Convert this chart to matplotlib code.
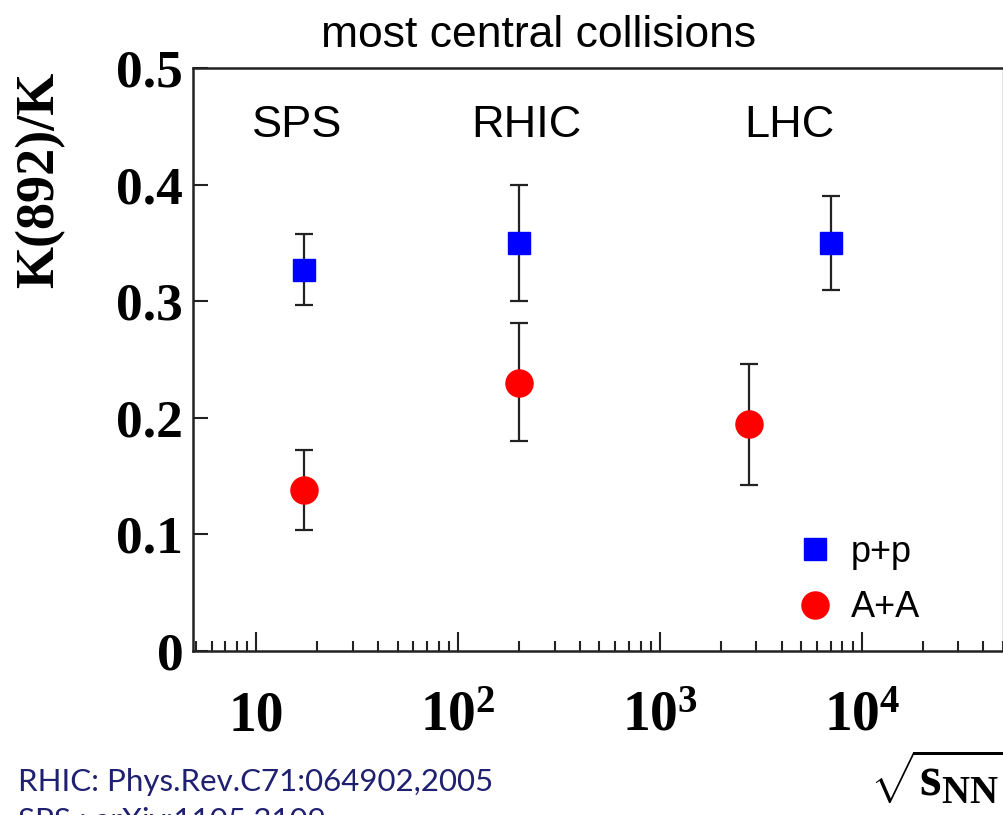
import matplotlib
matplotlib.use("Agg")
import matplotlib.pyplot as plt
from matplotlib.lines import Line2D

# data (sqrt(s_NN) in GeV)
energy_pp = [17.3, 200, 7000]
ratio_pp = [0.327, 0.350, 0.350]
err_pp_low = [0.030, 0.050, 0.040]
err_pp_high = [0.031, 0.050, 0.040]

energy_aa = [17.3, 200, 2760]
ratio_aa = [0.138, 0.230, 0.195]
err_aa_low = [0.034, 0.050, 0.053]
err_aa_high = [0.034, 0.051, 0.051]

x_ticks = [10, 100, 1000, 10000]
x_labels = ["10", r"$10^{2}$", r"$10^{3}$", r"$10^{4}$"]
y_ticks = [0, 0.1, 0.2, 0.3, 0.4, 0.5]
y_labels = ["0", "0.1", "0.2", "0.3", "0.4", "0.5"]

plt.rcParams["mathtext.fontset"] = "custom"
plt.rcParams["mathtext.rm"] = "Liberation Serif:bold"
plt.rcParams["mathtext.bf"] = "Liberation Serif:bold"
plt.rcParams["mathtext.it"] = "Liberation Serif:bold"

W, H = 1004, 815
fig = plt.figure(figsize=(W / 100, H / 100), dpi=100)

def fx(px):
    return px / W

def fy(py):
    return 1 - py / H

ax = fig.add_axes([fx(193), fy(651), fx(1003) - fx(193), fy(68) - fy(651)])
ax.set_xscale("log")
ax.set_xlim(4.85, 5.0e4)
ax.set_ylim(0, 0.5)

ax.errorbar(energy_pp, ratio_pp, yerr=[err_pp_low, err_pp_high], fmt="s",
            color="#0000ff", ms=16.5, mec="#0000ff", ecolor="#222222",
            elinewidth=1.6, capsize=6.5, capthick=1.6, zorder=3)
ax.errorbar(energy_aa, ratio_aa, yerr=[err_aa_low, err_aa_high], fmt="o",
            color="#ff0000", ms=19.5, mec="#ff0000", ecolor="#222222",
            elinewidth=1.6, capsize=6.5, capthick=1.6, zorder=3)

for sp in ax.spines.values():
    sp.set_linewidth(1.8)
    sp.set_color("#222222")
ax.spines["right"].set_linewidth(1.0)
ax.spines["right"].set_color("#777777")

ax.set_xticks(x_ticks)
ax.set_xticklabels(x_labels)
ax.set_yticks(y_ticks)
ax.set_yticklabels(y_labels)
ax.tick_params(axis="x", which="major", direction="in", length=14, width=1.5,
               color="#222222", pad=57, top=False)
ax.tick_params(axis="x", which="minor", direction="in", length=7.5, width=1.5,
               color="#222222", top=False)
ax.tick_params(axis="y", which="major", direction="in", length=11, width=1.5,
               color="#222222", pad=7, right=False)
ax.minorticks_on()
ax.yaxis.set_minor_locator(matplotlib.ticker.NullLocator())
for lab in ax.get_xticklabels():
    lab.set_fontfamily("Liberation Serif")
    lab.set_fontweight("bold")
    lab.set_fontsize(40)
    lab.set_verticalalignment("baseline")
for lab in ax.get_yticklabels():
    lab.set_fontfamily("Liberation Serif")
    lab.set_fontweight("bold")
    lab.set_fontsize(38.5)

# legend
handles = [Line2D([], [], ls="none", marker="s", ms=16.5, color="#0000ff"),
           Line2D([], [], ls="none", marker="o", ms=19.5, color="#ff0000")]
ax.legend(handles, ["p+p", "A+A"], loc="upper left",
          bbox_to_anchor=(fx(797), fy(535)), bbox_transform=fig.transFigure,
          frameon=False, borderpad=0, borderaxespad=0, handlelength=1.0,
          handletextpad=0.5, labelspacing=0.56,
          prop={"family": "Liberation Sans", "size": 26})

# labels
fig.text(fx(539), fy(47), "most central collisions", ha="center", va="baseline",
         fontsize=32, family="Liberation Sans")
for name, px in [("SPS", 297), ("RHIC", 526), ("LHC", 789)]:
    fig.text(fx(px), fy(137), name, ha="center", va="baseline",
             fontsize=32.5, family="Liberation Sans")

fig.text(fx(40), fy(180), "K(892)/K", rotation=90, ha="center", va="center",
         fontsize=39, family="Liberation Serif", fontweight="bold")

fig.text(fx(870), fy(796), r"$\sqrt{\mathbf{s}_{\mathbf{NN}}}$", ha="left",
         va="baseline", fontsize=40)

fig.text(fx(18), fy(791), "RHIC: Phys.Rev.C71:064902,2005", ha="left",
         va="baseline", fontsize=22.5, family="Lato", color="#202070")
fig.text(fx(18), fy(830), "SPS : arXiv:1105.3109", ha="left",
         va="baseline", fontsize=22.5, family="Lato", color="#202070")

fig.savefig("out.png", dpi=100)
